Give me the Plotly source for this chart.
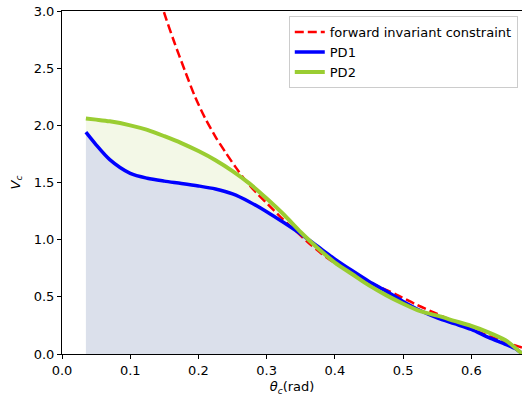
import plotly.graph_objects as go

theta = [0.035, 0.05, 0.07, 0.1, 0.125, 0.15, 0.175, 0.2, 0.225, 0.25, 0.275, 0.3,
         0.325, 0.35, 0.375, 0.4, 0.425, 0.45, 0.475, 0.5, 0.525, 0.55, 0.575, 0.6,
         0.625, 0.65, 0.665, 0.675]
pd1 = [1.94, 1.83, 1.70, 1.58, 1.537, 1.512, 1.492, 1.47, 1.443, 1.40, 1.33, 1.245,
       1.15, 1.05, 0.94, 0.83, 0.73, 0.635, 0.55, 0.46, 0.38, 0.315, 0.265, 0.215,
       0.145, 0.085, 0.045, 0.0]
pd2 = [2.06, 2.05, 2.035, 2.00, 1.96, 1.905, 1.845, 1.775, 1.695, 1.60, 1.49, 1.36,
       1.22, 1.065, 0.925, 0.80, 0.70, 0.60, 0.515, 0.44, 0.375, 0.335, 0.29, 0.245,
       0.19, 0.12, 0.05, 0.0]

theta_fi = [0.145, 0.149, 0.165, 0.18, 0.195, 0.21, 0.225, 0.24, 0.255, 0.27, 0.285,
            0.3, 0.32, 0.34, 0.36, 0.38, 0.4, 0.43, 0.46, 0.49, 0.52, 0.55, 0.58,
            0.61, 0.64, 0.67, 0.69]
v_fi = [3.1, 3.0, 2.72, 2.48, 2.25, 2.06, 1.90, 1.76, 1.63, 1.51, 1.41, 1.32, 1.20,
        1.09, 0.98, 0.88, 0.795, 0.69, 0.60, 0.52, 0.43, 0.35, 0.27, 0.195, 0.125,
        0.065, 0.03]

x_ticks = [0.0, 0.1, 0.2, 0.3, 0.4, 0.5, 0.6]
y_ticks = [0.0, 0.5, 1.0, 1.5, 2.0, 2.5, 3.0]

FONT = "DejaVu Sans"
FS = 13
fig = go.Figure()

fig.add_trace(go.Scatter(x=theta, y=pd1, mode="lines", fill="tozeroy",
                         fillcolor="rgb(219,224,235)",
                         line=dict(width=0, shape="spline", smoothing=0.8),
                         showlegend=False, hoverinfo="skip"))
fig.add_trace(go.Scatter(x=theta, y=pd2, mode="lines", fill="tonexty",
                         fillcolor="rgb(243,248,231)",
                         line=dict(width=0, shape="spline", smoothing=0.8),
                         showlegend=False, hoverinfo="skip"))

fig.add_trace(go.Scatter(x=theta_fi, y=v_fi, mode="lines",
                         name="forward invariant constraint",
                         line=dict(color="#ff0000", width=2.5, dash="9px,4px",
                                   shape="spline", smoothing=0.8)))
fig.add_trace(go.Scatter(x=theta, y=pd1, mode="lines", name="PD1",
                         line=dict(color="#0000ff", width=3.5, shape="spline",
                                   smoothing=0.8)))
fig.add_trace(go.Scatter(x=theta, y=pd2, mode="lines", name="PD2",
                         line=dict(color="#9acd32", width=4, shape="spline",
                                   smoothing=0.8)))

fig.update_layout(
    width=522, height=396,
    margin=dict(l=62, r=0, t=11, b=42),
    paper_bgcolor="white", plot_bgcolor="white",
    font=dict(family=FONT, size=FS, color="black"),
    legend=dict(x=0.493, y=0.985, xanchor="left", yanchor="top",
                traceorder="normal",
                bgcolor="rgba(255,255,255,0.8)", bordercolor="#cccccc",
                borderwidth=1, font=dict(size=FS), tracegroupgap=0,
                itemwidth=30),
    xaxis=dict(range=[0, 0.6742], tickvals=x_ticks,
               ticktext=[f"{v:.1f}" for v in x_ticks],
               showgrid=False, zeroline=False, showline=True, linecolor="black",
               linewidth=1, mirror=True, ticks="outside", ticklen=4,
               tickcolor="black", ticklabeloverflow="allow",
               title=dict(text="<i>θ</i><sub><i>c</i></sub>(rad)", standoff=7,
                          font=dict(size=FS))),
    yaxis=dict(range=[0, 3.0], tickvals=y_ticks,
               ticktext=[f"{v:.1f}" for v in y_ticks],
               showgrid=False, zeroline=False, showline=True, linecolor="black",
               linewidth=1, ticks="outside", ticklen=4, tickcolor="black",
               ticklabeloverflow="allow",
               title=dict(text="<i>V</i><sub><i>c</i></sub>", standoff=10,
                          font=dict(size=FS))),
)

fig.write_html(
    "out.html",
    config={"displayModeBar": False},
    post_script="document.body.style.margin='0';"
                "document.body.style.overflow='hidden';",
)
